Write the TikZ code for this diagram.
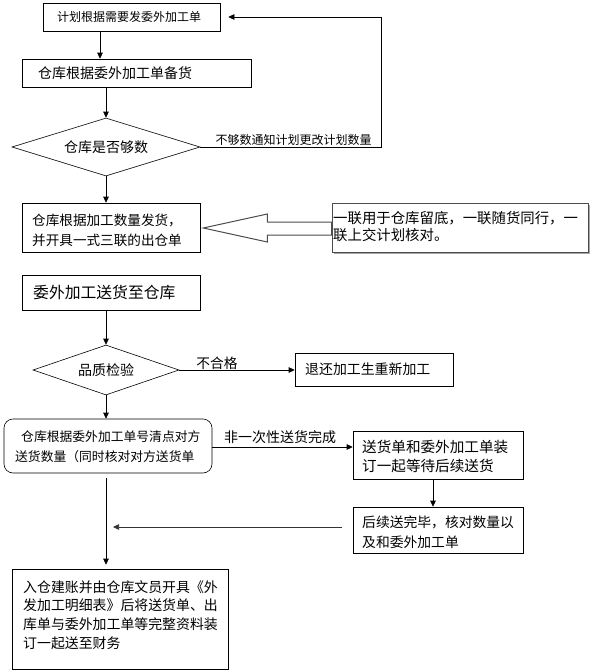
\documentclass[tikz,border=0pt]{standalone}
\usepackage{fontspec}
\setmainfont{Noto Sans CJK SC}
\usetikzlibrary{shapes.geometric,arrows.meta,calc}
\begin{document}
\begin{tikzpicture}[x=1pt,y=-1pt,
  frame/.style={draw, line width=0.6pt, inner sep=0pt, anchor=center},
  txt/.style={inner sep=0pt, anchor=west, align=left},
  ctxt/.style={inner sep=0pt, anchor=center},
  arr/.style={draw, line width=0.6pt, -{Triangle[length=6pt,width=5.5pt]}},
  dia/.style={diamond, draw, line width=0.6pt, inner sep=0pt},
  blockarrow/.style={draw=gray!60!black, line width=1pt, fill=white, line join=miter}]
\useasboundingbox (0,0) rectangle (594,672);
\fill[white] (0,0) rectangle (594,672);

% frames
\node[frame, minimum width=177pt, minimum height=28pt] (b1) at (131.5,17) {};
\node[frame, minimum width=228.3pt, minimum height=28pt] (b2) at (136.85,73) {};
\node[dia, aspect=3.24, minimum width=188pt, minimum height=58pt, font=\fontsize{14}{17}\selectfont] (d1) at (106,147) {仓库是否够数};
\node[frame, minimum width=177.3pt, minimum height=49pt] (b3) at (111.35,227.5) {};
\node[frame, draw=gray!60!black, line width=0.8pt, minimum width=256pt, minimum height=49pt] (note) at (460,227.5) {};
\node[frame, minimum width=177.3pt, minimum height=35pt] (b4) at (111.35,292.5) {};
\node[dia, aspect=2.92, minimum width=146pt, minimum height=50pt, font=\fontsize{14}{17}\selectfont] (d2) at (106,370) {品质检验};
\node[frame, minimum width=158pt, minimum height=33pt] (ret) at (374,369.5) {};
\node[frame, rounded corners=9pt, minimum width=208pt, minimum height=54pt] (rb) at (108,446) {};
\node[frame, minimum width=170pt, minimum height=48pt] (sd) at (438,455) {};
\node[frame, minimum width=170pt, minimum height=46pt] (fin2) at (438,530) {};
\node[frame, minimum width=216pt, minimum height=100pt] (fin) at (120,619) {};

% shadow of note
\draw[gray!70, line width=1.2pt] ($(note.north east)+(1.2,2)$) -- ($(note.south east)+(1.2,1.2)$) -- ($(note.south west)+(2,1.2)$);

% texts
\node[txt, font=\fontsize{12}{14}\selectfont] (t1) at (57,17) {计划根据需要发委外加工单};
\node[txt, font=\fontsize{14}{17}\selectfont] (t2) at (38,73) {仓库根据委外加工单备货};
\node[ctxt, font=\fontsize{12}{14}\selectfont] (fbl) at (293.5,140) {不够数通知计划更改计划数量};
\node[txt, font=\fontsize{13.6}{20}\selectfont] (t3) at (32,230) {仓库根据加工数量发货，\\并开具一式三联的出仓单};
\node[txt, font=\fontsize{14.4}{17}\selectfont] (tn) at (333,226.5) {一联用于仓库留底，一联随货同行，一\\联上交计划核对。};
\node[txt, font=\fontsize{15.8}{18}\selectfont] (t4) at (33,292.5) {委外加工送货至仓库};
\node[ctxt, font=\fontsize{13.7}{16}\selectfont] (ngl) at (217,363) {不合格};
\node[txt, font=\fontsize{13.9}{16}\selectfont] (tr) at (305,369.5) {退还加工生重新加工};
\node[txt, font=\fontsize{12.8}{20}\selectfont] (trb) at (15,447) {\hspace{6pt}仓库根据委外加工单号清点对方\\送货数量（同时核对对方送货单};
\node[ctxt, font=\fontsize{14}{16}\selectfont] (nol) at (280,437) {非一次性送货完成};
\node[txt, font=\fontsize{14.6}{19}\selectfont] (tsd) at (362,456.5) {送货单和委外加工单装\\订一起等待后续送货};
\node[txt, font=\fontsize{13.8}{20}\selectfont] (tf2) at (362,532) {后续送完毕，核对数量以\\及和委外加工单};
\node[txt, font=\fontsize{13.9}{18.7}\selectfont] (tf) at (23,615) {入仓建账并由仓库文员开具《外\\发加工明细表》后将送货单、出\\库单与委外加工单等完整资料装\\订一起送至财务};

% axes
\coordinate (ax) at (106,0);
\coordinate (ax1) at (100,0);
\coordinate (ax2) at (433,0);
\coordinate (fb1) at (381,147);
\coordinate (fb2) at (381,17);

% connectors
\draw[arr] (ax1|-b1.south) -- (ax1|-b2.north);
\draw[arr] (ax|-b2.south) -- (d1.north);
\draw[arr] (d1.south) -- (ax|-b3.north);
\draw[arr] (d1.east) -- (fb1) -- (fb2) -- ($(b1.east)+(8,0)$);
\draw[blockarrow] ($(b3.east)+(3,0.5)$) -- ($(b3.east)+(67,-13.5)$) -- ($(b3.east)+(67,-5.5)$)
  -- ($(note.west)+(0,-5.5)$) -- ($(note.west)+(0,7.5)$) -- ($(b3.east)+(67,7.5)$)
  -- ($(b3.east)+(67,14.5)$) -- cycle;
\draw[arr] (ax|-b4.south) -- (d2.north);
\draw[arr] (d2.east) -- (d2.east -| ret.west);
\draw[arr] (d2.south) -- (ax|-rb.north);
\draw[arr] ($(rb.east)+(0,1)$) -- ($(rb.east -| sd.west)+(0,1)$);
\draw[arr] (ax2|-sd.south) -- (ax2|-fin2.north);
\draw[arr, draw=black!80] ($(fin2.west)+(-11,-3)$) -- ($(ax|-fin2.west)+(7,-3)$);
\draw[arr] ($(ax|-rb.south)+(0,5)$) -- ($(ax|-fin.north)+(0,-4)$);
\end{tikzpicture}
\end{document}
